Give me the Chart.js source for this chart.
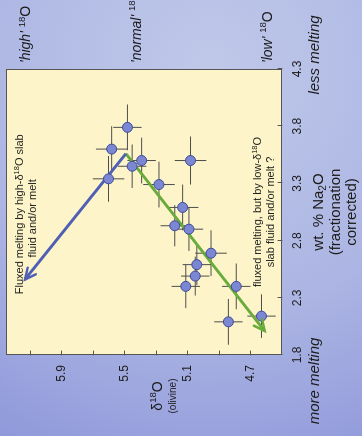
<!DOCTYPE html>
<html>
<head>
<meta charset="utf-8">
<script src="https://cdn.jsdelivr.net/npm/chart.js@4.4.1/dist/chart.umd.min.js"></script>
<style>
  html, body { margin: 0; padding: 0; overflow: hidden; background: #a9b2e2; }
  /* the chart is laid out landscape and turned a quarter to the left */
  #wrap { position: absolute; left: 0; top: 0; width: 436px; height: 362px;
          transform-origin: 0 0; transform: translate(0, 436px) rotate(-90deg); }
</style>
</head>
<body>
<div id="wrap"><canvas id="myChart" width="436" height="362"></canvas></div>
<script>
// Na2O (wt.%, fractionation corrected) vs. olivine d18O, one entry per sample
const na2o    = [3.79, 3.60, 3.50, 3.45, 3.34, 3.29, 3.50, 3.09, 2.93, 2.90, 2.69, 2.59, 2.49, 2.40, 2.40, 2.14, 2.09];
const d18o    = [5.48, 5.58, 5.39, 5.45, 5.60, 5.28, 5.08, 5.13, 5.18, 5.09, 4.95, 5.04, 5.05, 5.11, 4.79, 4.63, 4.84];
const na2oErr = [0.20, 0.20, 0.20, 0.19, 0.20, 0.20, 0.21, 0.20, 0.18, 0.19, 0.20, 0.18, 0.17, 0.19, 0.20, 0.19, 0.20];
const d18oErr = [0.09, 0.10, 0.09, 0.09, 0.10, 0.10, 0.10, 0.10, 0.09, 0.09, 0.10, 0.09, 0.09, 0.09, 0.09, 0.09, 0.09];

// trend arrows, apex -> head
const highTrendNa = [3.56, 2.46];
const highTrendD  = [5.49, 6.13];
const lowTrendNa  = [3.56, 2.01];
const lowTrendD   = [5.49, 4.61];

const na2oTicks    = [1.8, 2.3, 2.8, 3.3, 3.8, 4.3];
const d18oTicks    = [4.7, 4.9, 5.1, 5.3, 5.5, 5.7, 5.9, 6.1];
const d18oLabelled = [4.7, 5.1, 5.5, 5.9];

const reservoirNames  = ["'high'", "'normal'", "'low'"];
const reservoirLevels = [6.12, 5.42, 4.59];

const FAMILY = "'Liberation Sans', Arial, sans-serif";
const INK = '#1c1c1c';

// draws a run of text pieces, some raised or lowered (isotopes, formulas)
function richText(ctx, parts, x, y, size, align) {
  const fontOf = p => (p.it ? 'italic ' : '') + (p.pos ? size * 0.68 : size) + 'px ' + FAMILY;
  let total = 0;
  const widths = parts.map(p => { ctx.font = fontOf(p); const w = ctx.measureText(p.t).width; total += w; return w; });
  let cx = align === 'center' ? x - total / 2 : (align === 'right' ? x - total : x);
  ctx.textAlign = 'left';
  ctx.textBaseline = 'middle';
  parts.forEach((p, i) => {
    ctx.font = fontOf(p);
    const dy = p.pos === 'sup' ? -size * 0.32 : (p.pos === 'sub' ? size * 0.3 : 0);
    ctx.fillText(p.t, cx, y + dy);
    cx += widths[i];
  });
}

const backdrop = {
  id: 'backdrop',
  beforeDraw(chart) {
    const { ctx, width, height, chartArea: a } = chart;
    ctx.save();
    const g = ctx.createRadialGradient(370, 210, 10, 370, 210, 430);
    g.addColorStop(0, '#bfc8e9');
    g.addColorStop(0.55, '#adb6e3');
    g.addColorStop(1, '#8f98da');
    ctx.fillStyle = g;
    ctx.fillRect(0, 0, width, height);
    ctx.fillStyle = '#fdf5c9';
    ctx.fillRect(a.left, a.top, a.right - a.left, a.bottom - a.top);
    ctx.restore();
  }
};

// error bars under the symbols, frame and inward ticks on top
const extras = {
  id: 'extras',
  beforeDatasetsDraw(chart) {
    const { ctx, scales: { x, y } } = chart;
    ctx.save();
    ctx.strokeStyle = '#4d4d4d';
    ctx.lineWidth = 1;
    na2o.forEach((v, i) => {
      const px = x.getPixelForValue(v), py = y.getPixelForValue(d18o[i]);
      ctx.beginPath();
      ctx.moveTo(x.getPixelForValue(v - na2oErr[i]), py);
      ctx.lineTo(x.getPixelForValue(v + na2oErr[i]), py);
      ctx.moveTo(px, y.getPixelForValue(d18o[i] - d18oErr[i]));
      ctx.lineTo(px, y.getPixelForValue(d18o[i] + d18oErr[i]));
      ctx.stroke();
    });
    ctx.restore();
  },
  afterDatasetsDraw(chart) {
    const { ctx, chartArea: a, scales: { x, y } } = chart;
    ctx.save();

    // arrow heads on the two trend lines
    [1, 2].forEach(di => {
      const ds = chart.data.datasets[di];
      const pts = chart.getDatasetMeta(di).data;
      const p0 = pts[0], p1 = pts[pts.length - 1];
      const ang = Math.atan2(p1.y - p0.y, p1.x - p0.x);
      ctx.strokeStyle = ds.borderColor;
      ctx.lineWidth = 2.5;
      ctx.lineCap = 'round';
      ctx.beginPath();
      ctx.moveTo(p1.x - 12 * Math.cos(ang - 0.45), p1.y - 12 * Math.sin(ang - 0.45));
      ctx.lineTo(p1.x, p1.y);
      ctx.lineTo(p1.x - 12 * Math.cos(ang + 0.45), p1.y - 12 * Math.sin(ang + 0.45));
      ctx.stroke();
    });

    // plot frame
    ctx.strokeStyle = '#555';
    ctx.lineWidth = 1;
    ctx.strokeRect(Math.round(a.left) + 0.5, Math.round(a.top) + 0.5,
                   Math.round(a.right - a.left) - 1, Math.round(a.bottom - a.top) - 1);

    // small ticks pointing into the plot
    ctx.beginPath();
    na2oTicks.forEach(v => {
      const px = Math.round(x.getPixelForValue(v)) + 0.5;
      ctx.moveTo(px, a.bottom); ctx.lineTo(px, a.bottom - 4);
    });
    d18oTicks.forEach(v => {
      const py = Math.round(y.getPixelForValue(v)) + 0.5;
      ctx.moveTo(a.left, py); ctx.lineTo(a.left + 4, py);
    });
    ctx.stroke();

    ctx.fillStyle = INK;

    // axis titles
    const midX = (a.left + a.right) / 2;
    richText(ctx, [{ t: 'wt. % Na' }, { t: '2', pos: 'sub' }, { t: 'O' }], midX, a.bottom + 37, 15, 'center');
    richText(ctx, [{ t: '(fractionation' }], midX, a.bottom + 54, 15, 'center');
    richText(ctx, [{ t: 'corrected)' }], midX, a.bottom + 70, 15, 'center');
    richText(ctx, [{ t: 'less melting', it: true }], x.getPixelForValue(4.3) + 14, a.bottom + 33, 15, 'center');
    richText(ctx, [{ t: 'more melting', it: true }], x.getPixelForValue(1.8) - 26, a.bottom + 33, 15, 'center');

    richText(ctx, [{ t: 'δ' }, { t: '18', pos: 'sup' }, { t: 'O' }], 40, a.top + 152, 14, 'center');
    richText(ctx, [{ t: '(olivine)' }], 40, a.top + 167, 10, 'center');

    // oxygen reservoir labels beside the plot
    reservoirNames.forEach((name, i) => {
      richText(ctx, [{ t: name + ' ', it: true }, { t: '18', pos: 'sup' }, { t: 'O' }],
               a.right + 6, y.getPixelForValue(reservoirLevels[i]), 14, 'left');
    });

    // notes along the arrows
    const bx = x.getPixelForValue(3.03), by = y.getPixelForValue(6.16);
    richText(ctx, [{ t: 'Fluxed melting by high-δ' }, { t: '18', pos: 'sup' }, { t: 'O slab' }], bx, by, 11, 'center');
    richText(ctx, [{ t: 'fluid and/or melt' }], bx - 4, by + 13, 11, 'center');
    const gx = x.getPixelForValue(3.05), gy = y.getPixelForValue(4.65);
    richText(ctx, [{ t: 'fluxed melting, but by low-δ' }, { t: '18', pos: 'sup' }, { t: 'O' }], gx, gy, 11, 'center');
    richText(ctx, [{ t: 'slab fluid and/or melt ?' }], gx, gy + 13, 11, 'center');

    ctx.restore();
  }
};

const ctx = document.getElementById('myChart').getContext('2d');
const myChart = new Chart(ctx, {
  type: 'scatter',
  data: {
    datasets: [
      {
        label: 'samples',
        data: na2o.map((v, i) => ({ x: v, y: d18o[i] })),
        pointRadius: 5,
        pointBackgroundColor: '#7b87d2',
        pointBorderColor: '#3f4a99',
        pointBorderWidth: 1
      },
      {
        label: 'high-d18O flux',
        data: highTrendNa.map((v, i) => ({ x: v, y: highTrendD[i] })),
        showLine: true,
        borderColor: '#4f5fb4',
        borderWidth: 3,
        pointRadius: 0
      },
      {
        label: 'low-d18O flux',
        data: lowTrendNa.map((v, i) => ({ x: v, y: lowTrendD[i] })),
        showLine: true,
        borderColor: '#6aac3c',
        borderWidth: 3,
        pointRadius: 0
      }
    ]
  },
  options: {
    responsive: false,
    animation: false,
    devicePixelRatio: 1,
    layout: { padding: { top: 4, right: 69, bottom: 0, left: 0 } },
    plugins: { legend: { display: false }, tooltip: { enabled: false } },
    scales: {
      x: {
        type: 'linear', position: 'bottom', min: 1.8, max: 4.3,
        afterBuildTicks: s => { s.ticks = na2oTicks.map(v => ({ value: v })); },
        afterFit: s => { s.height = 80; s.paddingLeft = 0; s.paddingRight = 0; },
        grid: { display: false, drawTicks: false },
        border: { display: false },
        ticks: {
          autoSkip: false, maxRotation: 0, padding: 8, color: INK,
          font: { family: FAMILY, size: 12 },
          callback: v => v.toFixed(1)
        }
      },
      y: {
        type: 'linear', position: 'left', min: 4.5, max: 6.25,
        afterBuildTicks: s => { s.ticks = d18oTicks.map(v => ({ value: v })); },
        afterFit: s => { s.width = 81; s.paddingTop = 0; s.paddingBottom = 0; },
        grid: { display: false, drawTicks: false },
        border: { display: false },
        ticks: {
          autoSkip: false, padding: 10, color: INK,
          font: { family: FAMILY, size: 12 },
          callback: v => d18oLabelled.includes(v) ? v.toFixed(1) : ''
        }
      }
    }
  },
  plugins: [backdrop, extras]
});
</script>
</body>
</html>
